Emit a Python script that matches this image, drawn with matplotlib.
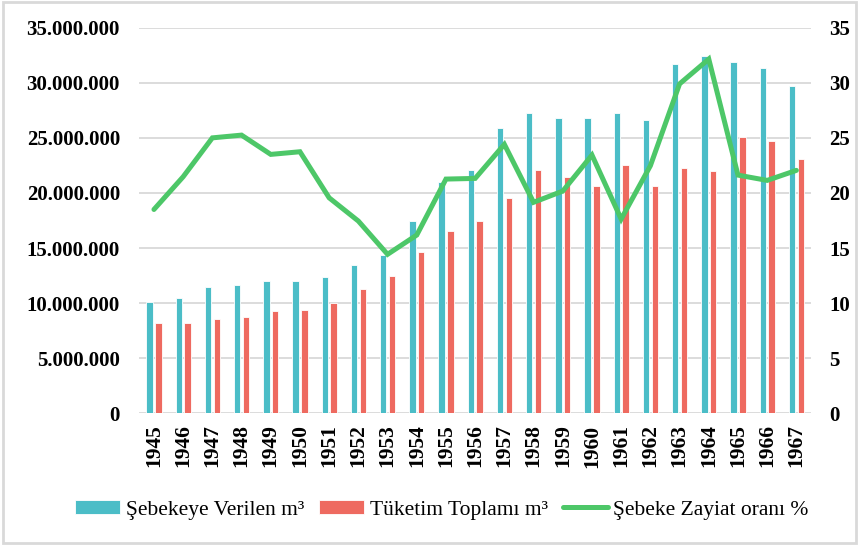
import matplotlib
matplotlib.use("Agg")
import matplotlib.pyplot as plt
import numpy as np
from matplotlib.ticker import FuncFormatter
from matplotlib.patches import Rectangle

years = [str(y) for y in range(1945, 1968)]
verilen = [10.1, 10.46, 11.43, 11.68, 11.98, 11.98, 12.34, 13.43, 14.4, 17.49,
           20.99, 22.08, 25.86, 27.25, 26.82, 26.82, 27.25, 26.59, 31.67, 32.4,
           31.9, 31.3, 29.67]
verilen = [v * 1e6 for v in verilen]
tuketim = [8.23, 8.23, 8.59, 8.71, 9.26, 9.38, 10.05, 11.25, 12.46, 14.64,
           16.52, 17.42, 19.56, 22.1, 21.44, 20.6, 22.53, 20.6, 22.23, 21.99,
           25.07, 24.71, 23.08]
tuketim = [v * 1e6 for v in tuketim]
zayiat = [18.5, 21.47, 25.0, 25.25, 23.5, 23.74, 19.56, 17.45, 14.43, 16.18,
          21.26, 21.32, 24.41, 19.15, 20.17, 23.44, 17.63, 22.47, 29.9, 32.15,
          21.62, 21.14, 22.05]

labels = ["Şebekeye Verilen m³", "Tüketim Toplamı m³", "Şebeke Zayiat oranı %"]

BLUE = "#4BBDC7"
RED = "#EE6A60"
GREEN = "#4DC768"
GRID = "#D9D9D9"

plt.rcParams['font.family'] = ['Liberation Serif', 'DejaVu Serif']

fig = plt.figure(figsize=(8.58, 5.46), dpi=100)
ax = fig.add_axes([0.1624, 0.243, 0.7828, 0.7063])
ax2 = ax.twinx()

x = np.arange(len(years))
w = 0.22
b1 = ax.bar(x - 0.15, verilen, width=w, color=BLUE, edgecolor="white", linewidth=0.6,
            label=labels[0], zorder=2)
b2 = ax.bar(x + 0.15, tuketim, width=w, color=RED, edgecolor="white", linewidth=0.6,
            label=labels[1], zorder=2)
ln, = ax2.plot(x, zayiat, color=GREEN, lw=3.6, solid_joinstyle="miter",
               solid_capstyle="round", label=labels[2], zorder=3)

ax.set_xlim(-0.5, len(years) - 0.5)
ax.set_ylim(0, 35e6)
ax2.set_ylim(0, 35)
ax.set_yticks(np.arange(0, 35e6 + 1, 5e6))
ax2.set_yticks(np.arange(0, 36, 5))
ax.yaxis.set_major_formatter(FuncFormatter(lambda v, p: f"{int(v):,}".replace(",", ".")))
ax.grid(axis="y", color=GRID, lw=1.3, zorder=0)
ax.set_axisbelow(True)

for a in (ax, ax2):
    for s in a.spines.values():
        s.set_visible(False)
    a.tick_params(length=0)

ax.set_xticks(x)
ax.set_xticklabels(years, rotation=90, fontsize=15.5, fontweight="bold")
ax.tick_params(axis="x", pad=8)
ax.tick_params(axis="y", pad=14, labelsize=15)
ax2.tick_params(axis="y", pad=13, labelsize=15)
for t in ax.get_yticklabels() + ax2.get_yticklabels():
    t.set_fontweight("bold")

fig.legend([b1, b2, ln], labels, loc="center", bbox_to_anchor=(0.515, 0.066), ncol=3,
           frameon=False, fontsize=15.5, handlelength=2.1, handleheight=0.6,
           handletextpad=0.25, columnspacing=0.7)

fig.patches.append(Rectangle((0.004, 0.006), 0.994, 0.99, transform=fig.transFigure,
                             fill=False, edgecolor=GRID, lw=2))

fig.savefig("out.png", dpi=100)
